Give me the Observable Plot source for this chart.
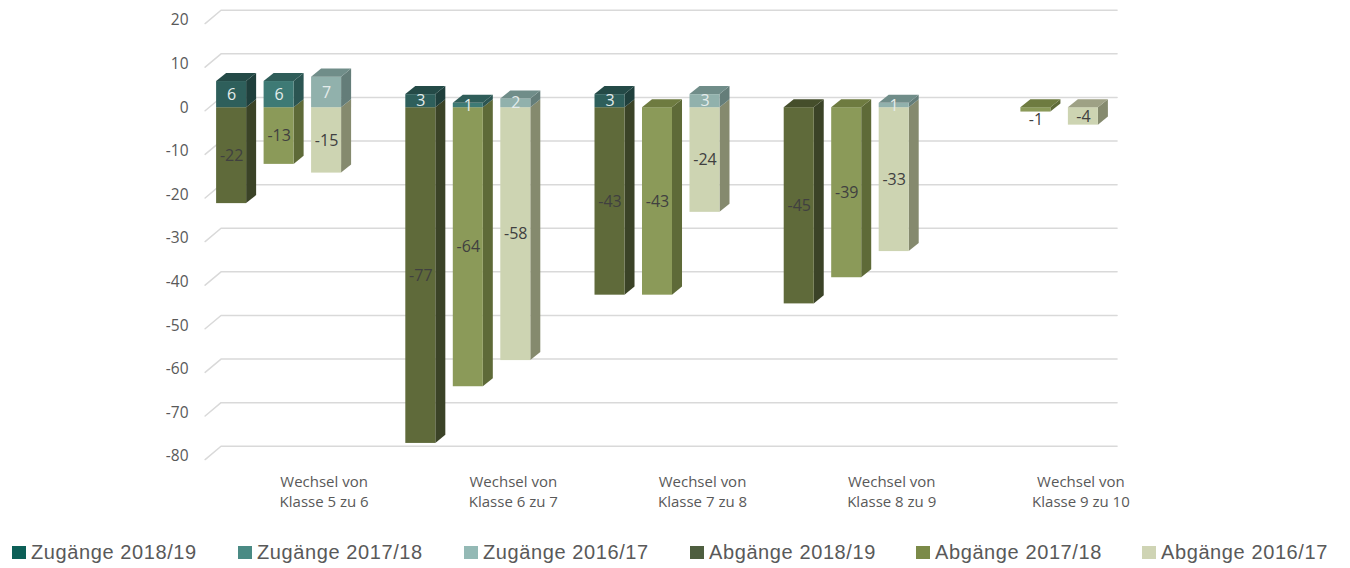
<!DOCTYPE html>
<html><head><meta charset="utf-8">
<script src="https://cdn.jsdelivr.net/npm/d3@7"></script>
<script src="https://cdn.jsdelivr.net/npm/@observablehq/plot@0.6"></script>
<style>
body{margin:0;background:#fff;}
#legend{position:relative;height:38px;font-family:"Liberation Sans",Arial,sans-serif;font-size:20px;letter-spacing:0.6px;color:#595959;}
.item{position:absolute;top:11px;display:flex;align-items:center;white-space:nowrap;line-height:22px;}
.sw{display:inline-block;width:14px;height:13px;margin-right:5px;}
</style></head><body>
<div id="chart"></div>
<div id="legend"></div>
<script>
// ---- data ----
const categories = ["Wechsel von\nKlasse 5 zu 6","Wechsel von\nKlasse 6 zu 7","Wechsel von\nKlasse 7 zu 8","Wechsel von\nKlasse 8 zu 9","Wechsel von\nKlasse 9 zu 10"];
const years = ["2018/19","2017/18","2016/17"];
const zugaenge1819 = [6, 3, 3, 0, 0];
const zugaenge1718 = [6, 1, 0, 0, 0];
const zugaenge1617 = [7, 2, 3, 1, 0];
const abgaenge1819 = [-22, -77, -43, -45, 0];
const abgaenge1718 = [-13, -64, -43, -39, -1];
const abgaenge1617 = [-15, -58, -24, -33, -4];
const yTicks = [20, 10, 0, -10, -20, -30, -40, -50, -60, -70, -80];

// ---- styles ----
const zuStyle = [
  {front:"#2e5f5b", side:"#1f3f3c", top:"#244a47", legend:"#0c5f57"},
  {front:"#3e7a75", side:"#2b5552", top:"#2f5d59", legend:"#4a8a84"},
  {front:"#91b1ac", side:"#647d79", top:"#708d89", legend:"#94b9b5"}
];
const abStyle = [
  {front:"#5f6a3a", side:"#3b4327", top:"#454e2b", legend:"#4e5e3f"},
  {front:"#8b9a59", side:"#5e6a38", top:"#6e7b40", legend:"#7b8a48"},
  {front:"#cdd4b2", side:"#858a6e", top:"#9ea185", legend:"#cfd4b4"}
];
const zu = [zugaenge1819, zugaenge1718, zugaenge1617];
const ab = [abgaenge1819, abgaenge1718, abgaenge1617];

const barOffset = 0.251, barHalf = 0.0793, depthX = 0.0529, depthY = 1.85;
const labelOffset = 0.238;
const gridBack = 2.35, gridStartX = -0.391, gridKneeX = -0.307, gridEndX = 4.429, gridStartDy = -0.7;

// build faces
const fronts = [], sides = [], tops = [], labels = [];
categories.forEach((c, i) => {
  years.forEach((yr, j) => {
    const xc = i + (j - 1) * barOffset, xl = xc - barHalf, xr = xc + barHalf;
    const z = zu[j][i], a = ab[j][i];
    const segs = [];
    if (a < 0) segs.push({lo: a, hi: 0, st: abStyle[j], v: a, kind: "ab"});
    if (z > 0) segs.push({lo: 0, hi: z, st: zuStyle[j], v: z, kind: "zu"});
    segs.forEach((s, k) => {
      const id = `${i}-${j}-${k}`;
      fronts.push({x1: xl, x2: xr, y1: s.lo, y2: s.hi, fill: s.st.front});
      sides.push({id, x: xr, y1: s.lo, y2: s.hi, fill: s.st.side});
      sides.push({id, x: xr + depthX, y1: s.lo + depthY, y2: s.hi + depthY, fill: s.st.side});
      labels.push({x: xc, y: (s.lo + s.hi) / 2, text: String(s.v), kind: s.kind, small: Math.abs(s.v) < 2 && s.kind === "ab"});
    });
    if (segs.length) {
      const top = segs[segs.length - 1];
      const id = `${i}-${j}-top`;
      tops.push({id, y: top.hi, x1: xl, x2: xr, fill: top.st.top});
      tops.push({id, y: top.hi + depthY, x1: xl + depthX, x2: xr + depthX, fill: top.st.top});
    }
  });
});
const grid = [];
yTicks.forEach(v => {
  grid.push({v, x: gridStartX, y: v + gridStartDy});
  grid.push({v, x: gridKneeX, y: v + gridBack});
  grid.push({v, x: gridEndX, y: v + gridBack});
});

const font = "'Open Sans', 'Noto Sans', sans-serif";
const chart = Plot.plot({
  width: 1350, height: 530,
  marginLeft: 184, marginRight: 220, marginTop: 20, marginBottom: 74,
  x: {domain: [-0.5, 4.5], axis: null},
  y: {domain: [-80, 20], axis: null},
  color: {type: "identity"},
  style: {fontFamily: font, background: "#fff"},
  marks: [
    Plot.line(grid, {x: "x", y: "y", z: "v", stroke: "#d9d9d9", strokeWidth: 1.5}),
    Plot.text(yTicks, {x: () => -0.5, y: d => d, dx: 4, textAnchor: "end", text: d => String(d), fontSize: 15.5, fill: "#595959", fontFamily: font}),
    Plot.area(sides, {x1: "x", y1: "y1", y2: "y2", z: "id", fill: "fill"}),
    Plot.rect(fronts, {x1: "x1", x2: "x2", y1: "y1", y2: "y2", fill: "fill"}),
    Plot.area(tops, {x1: "x1", x2: "x2", y1: "y", z: "id", fill: "fill"}),
    Plot.text(labels.filter(d => !d.small), {x: "x", y: "y", text: "text", fontSize: 16, fontFamily: font,
      fill: d => d.kind === "zu" ? "#e4eceb" : "#404040"}),
    Plot.text(labels.filter(d => d.small), {x: "x", y: "y", text: "text", dy: 10, fontSize: 16, fontFamily: font, fill: "#404040"}),
    Plot.text(categories, {x: (d, i) => i + labelOffset, y: () => -80, dy: 34, text: d => d, fontSize: 15, lineHeight: 1.333, fill: "#595959", fontFamily: font})
  ]
});
document.getElementById("chart").appendChild(chart);

// legend
const legendItems = [
  ...years.map((y, j) => ({label: "Zugänge " + y, color: zuStyle[j].legend})),
  ...years.map((y, j) => ({label: "Abgänge " + y, color: abStyle[j].legend}))
];
const leg = document.getElementById("legend");
legendItems.forEach((it, k) => {
  const d = document.createElement("div");
  d.className = "item";
  d.style.left = (12 + k * 226) + "px";
  d.innerHTML = `<span class="sw" style="background:${it.color}"></span><span>${it.label}</span>`;
  leg.appendChild(d);
});
</script>
</body></html>
